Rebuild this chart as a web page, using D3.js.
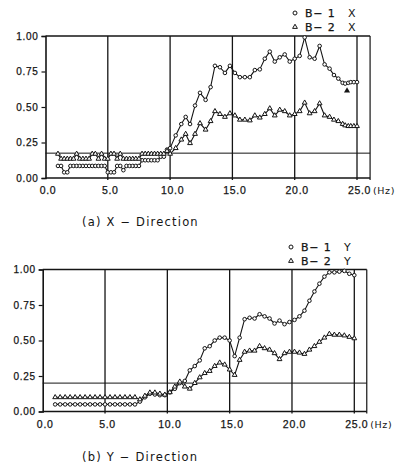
<!DOCTYPE html>
<html>
<head>
<meta charset="utf-8">
<script src="https://cdn.jsdelivr.net/npm/d3@7"></script>
<style>
  body { margin: 0; background: #fff; }
  svg { display: block; font-family: "DejaVu Sans", sans-serif; }
</style>
</head>
<body>
<svg id="chart" width="400" height="463"></svg>
<script>
// ---- data ----
var xTicks = [0, 5, 10, 15, 20, 25];
var yTicks = [0, 0.25, 0.5, 0.75, 1.0];

// (a) X-Direction
var freqX = [1.0, 1.25, 1.5, 1.75, 2.0, 2.25, 2.5, 2.75, 3.0, 3.25, 3.5, 3.75, 4.0, 4.25, 4.5, 4.75,
  5.0, 5.25, 5.5, 5.75, 6.0, 6.25, 6.5, 6.75, 7.0, 7.25, 7.5, 7.75, 8.0, 8.25, 8.5, 8.75,
  9.0, 9.25, 9.5, 9.75, 10.0,
  10.45, 10.9, 11.25, 11.6, 12.0, 12.4, 12.85, 13.25, 13.6, 14.0, 14.4, 14.8, 15.2, 15.6, 16.0,
  16.4, 16.8, 17.2, 17.6, 18.0, 18.4, 18.8, 19.2, 19.6, 20.0, 20.4, 20.8, 21.2, 21.6, 22.0,
  22.4, 22.8, 23.15, 23.5, 23.85, 24.05, 24.3, 24.5, 24.75, 25.0];
var b1X = [.085, .085, .04, .04, .085, .085, .085, .085, .085, .085, .085, .085, .085, .085, .085, .085,
  .04, .04, .04, .085, .085, .055, .085, .085, .085, .085, .085, .125, .125, .125, .125, .125,
  .125, .15, .15, .2, .21,
  .30, .38, .43, .38, .51, .60, .55, .64, .79, .78, .74, .79, .74, .71, .71,
  .71, .76, .765, .84, .89, .82, .85, .87, .82, .84, .86, .99, .85, .84, .93,
  .80, .77, .725, .70, .67, .665, .67, .675, .675, .675];
var b2X = [.17, .135, .135, .135, .135, .135, .17, .135, .135, .135, .135, .17, .17, .135, .17, .135,
  .135, .17, .17, .135, .17, .135, .135, .135, .135, .135, .135, .17, .17, .17, .17, .17,
  .17, .17, .17, .19, .17,
  .21, .27, .31, .245, .31, .385, .34, .40, .47, .45, .43, .455, .44, .41, .41,
  .405, .44, .425, .45, .49, .44, .48, .47, .44, .45, .47, .53, .455, .47, .525,
  .44, .43, .41, .40, .38, .37, .365, .365, .365, .365];
var strayX = [[24.2, 0.615]];   // lone triangle mark near the end of B-1 X

// (b) Y-Direction
var freqY = [1.0, 1.4, 1.8, 2.2, 2.6, 3.0, 3.4, 3.8, 4.2, 4.6, 5.0, 5.4, 5.8, 6.2, 6.6, 7.0, 7.4,
  7.8, 8.2, 8.6, 9.0, 9.4, 9.8, 10.2, 10.6, 11.0, 11.4, 11.8, 12.2, 12.6, 13.0, 13.4, 13.8,
  14.2, 14.6, 15.0, 15.4, 15.8, 16.2, 16.6, 17.0, 17.4, 17.8, 18.2, 18.6, 19.0, 19.4, 19.8,
  20.2, 20.6, 21.0, 21.4, 21.8, 22.2, 22.6, 23.0, 23.4, 23.8, 24.2, 24.6, 25.0];
var b1Y = [.05, .05, .05, .05, .05, .05, .05, .05, .05, .05, .05, .05, .05, .05, .05, .05, .05,
  .07, .10, .125, .12, .115, .115, .135, .16, .20, .215,
  .29, .32, .36, .445, .46, .50, .52, .52, .50, .39,
  .52, .65, .66, .655, .685, .67, .655, .62, .64, .615,
  .63, .645, .67, .71, .78, .845, .90, .95, .98, .98,
  .985, .99, .97, .96];
var b2Y = [.10, .10, .10, .10, .10, .10, .10, .10, .10, .10, .10, .10, .10, .10, .10, .10, .10,
  .085, .11, .133, .133, .125, .118, .135, .175, .21, .175,
  .16, .20, .24, .27, .285, .32, .344, .33, .295, .257,
  .363, .42, .428, .428, .46, .445, .435, .41, .368, .41,
  .42, .42, .414, .405, .435, .46, .49, .52, .546, .54,
  .54, .535, .525, .515];

// ---- layout ----
var panels = [
  { freq: freqX, s1: b1X, s2: b2X, stray: strayX, refLine: 0.175,
    left: 45.5, right25: 357, xEnd: 26.05, bottom: 178, top: 36,
    legend: ["X", "X"], legX: 295, legY: 13, capY: 226 },
  { freq: freqY, s1: b1Y, s2: b2Y, stray: [], refLine: 0.2,
    left: 42.7, right25: 354.3, xEnd: 26.0, bottom: 411.5, top: 269.5,
    legend: ["Y", "Y"], legX: 291, legY: 247, capY: 461 }
];
var captions = ["(a) X \u2212 Direction", "(b) Y \u2212 Direction"];
var ink = "#141414";

var svg = d3.select("#chart");
svg.append("rect").attr("width", 400).attr("height", 463).attr("fill", "#fff");

var tri = d3.symbol().type(d3.symbolTriangle).size(10);

panels.forEach(function(p, k) {
  var x = d3.scaleLinear().domain([0, 25]).range([p.left, p.right25]);
  var y = d3.scaleLinear().domain([0, 1]).range([p.bottom, p.top]);
  var g = svg.append("g");

  // frame and grid
  g.append("line").attr("x1", x(0)).attr("x2", x(p.xEnd)).attr("y1", y(1)).attr("y2", y(1))
    .attr("stroke", ink).attr("stroke-width", 1.6);
  g.append("line").attr("x1", x(p.xEnd)).attr("x2", x(p.xEnd)).attr("y1", y(1)).attr("y2", y(0) + 2)
    .attr("stroke", ink).attr("stroke-width", 1.2);
  g.append("line").attr("x1", x(0)).attr("x2", x(p.xEnd)).attr("y1", y(0)).attr("y2", y(0))
    .attr("stroke", ink).attr("stroke-width", 1.5);
  g.append("line").attr("x1", x(0)).attr("x2", x(p.xEnd)).attr("y1", y(p.refLine)).attr("y2", y(p.refLine))
    .attr("stroke", ink).attr("stroke-width", 1);
  g.selectAll(".vgrid").data(xTicks.slice(1)).enter().append("line")
    .attr("x1", function(d) { return x(d); }).attr("x2", function(d) { return x(d); })
    .attr("y1", y(1)).attr("y2", y(0) + 2)
    .attr("stroke", ink).attr("stroke-width", 1.3);

  // y axis
  var ya = g.append("g").attr("transform", "translate(" + x(0) + ",0)")
    .call(d3.axisLeft(y).tickValues(yTicks).tickSize(4).tickPadding(3).tickFormat(d3.format(".2f")));
  ya.select(".domain").attr("stroke", ink).attr("stroke-width", 1.6);
  ya.selectAll(".tick line").attr("stroke", ink).attr("stroke-width", 1.2);
  ya.selectAll(".tick text").attr("fill", ink).style("font-size", "10px")
    .style("letter-spacing", "0.7px").attr("stroke", ink).attr("stroke-width", 0.25);

  // x axis
  var xa = g.append("g").attr("transform", "translate(0," + y(0) + ")")
    .call(d3.axisBottom(x).tickValues(xTicks).tickSize(0).tickPadding(9).tickFormat(d3.format(".1f")));
  xa.select(".domain").remove();
  xa.selectAll(".tick text").attr("fill", ink).attr("dx", 2).style("font-size", "10.5px")
    .style("letter-spacing", "0.7px").attr("stroke", ink).attr("stroke-width", 0.25);
  g.append("text").attr("x", x(25) + 16).attr("y", y(0) + 16)
    .attr("fill", ink).style("font-size", "9.5px").style("letter-spacing", "0.6px")
    .text("(Hz)");

  // series lines
  var pts1 = p.freq.map(function(f, i) { return [f, p.s1[i]]; });
  var pts2 = p.freq.map(function(f, i) { return [f, p.s2[i]]; });
  var line = d3.line().x(function(d) { return x(d[0]); }).y(function(d) { return y(d[1]); });
  [pts1, pts2].forEach(function(pts) {
    g.append("path").datum(pts).attr("d", line)
      .attr("fill", "none").attr("stroke", ink).attr("stroke-width", 1.1);
  });

  // markers
  g.selectAll(".m1").data(pts1).enter().append("circle")
    .attr("cx", function(d) { return x(d[0]); }).attr("cy", function(d) { return y(d[1]); })
    .attr("r", 1.8).attr("fill", "#fff").attr("stroke", ink).attr("stroke-width", 1);
  g.selectAll(".m2").data(pts2).enter().append("path")
    .attr("d", tri)
    .attr("transform", function(d) { return "translate(" + x(d[0]) + "," + y(d[1]) + ")"; })
    .attr("fill", "#fff").attr("stroke", ink).attr("stroke-width", 1);
  g.selectAll(".ms").data(p.stray).enter().append("path")
    .attr("d", d3.symbol().type(d3.symbolTriangle).size(16))
    .attr("transform", function(d) { return "translate(" + x(d[0]) + "," + y(d[1]) + ")"; })
    .attr("fill", ink);

  // legend
  var lg = g.append("g").attr("transform", "translate(" + p.legX + "," + p.legY + ")");
  lg.append("circle").attr("cx", 0).attr("cy", 0).attr("r", 2)
    .attr("fill", "#fff").attr("stroke", ink).attr("stroke-width", 1);
  lg.append("path").attr("d", tri).attr("transform", "translate(0,14)")
    .attr("fill", "#fff").attr("stroke", ink).attr("stroke-width", 1);
  ["B\u2212 1", "B\u2212 2"].forEach(function(t, i) {
    lg.append("text").attr("x", 10).attr("y", i * 14 + 4).attr("fill", ink)
      .style("font-size", "11px").style("letter-spacing", "0.8px")
      .attr("stroke", ink).attr("stroke-width", 0.25).text(t);
    lg.append("text").attr("x", 53).attr("y", i * 14 + 4).attr("fill", ink)
      .style("font-size", "11px").text(p.legend[i]);
  });

  // caption
  g.append("text").attr("x", 82).attr("y", p.capY).attr("fill", ink)
    .style("font-size", "11.5px").style("letter-spacing", "1.2px").text(captions[k]);
});
</script>
</body>
</html>
